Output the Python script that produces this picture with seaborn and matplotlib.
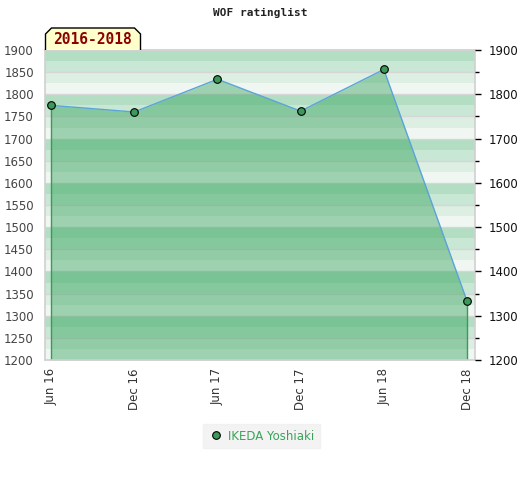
import matplotlib
matplotlib.use("Agg")
import matplotlib.pyplot as plt
import seaborn as sns
import pandas as pd
from matplotlib.patches import Polygon
from matplotlib.ticker import NullFormatter

# rating history
periods = ["Jun 16", "Dec 16", "Jun 17", "Dec 17", "Jun 18", "Dec 18"]
ratings = [1775, 1760, 1834, 1762, 1856, 1333]
player = "IKEDA Yoshiaki"
title = "WOF ratinglist"
span_label = "2016-2018"

df = pd.DataFrame({"pos": range(len(periods)), "rating": ratings})

sns.set_theme(style="white")
plt.rcParams["font.family"] = ["DejaVu Sans"]

fig = plt.figure(figsize=(5.2, 4.8), dpi=100)
ax = fig.add_axes([45 / 520, 120 / 480, 430 / 520, 310 / 480])

ymin, ymax = 1200, 1900
# banded background: 4 bands per 100 points, darkest at top
band_cols = ["#b3dec4", "#c9e7d5", "#ddeee3", "#f0f7f2"]
for base in range(ymin, ymax, 100):
    for i, c in enumerate(band_cols):
        top = base + 100 - i * 25
        ax.axhspan(top - 25, top, color=c, lw=0, zorder=0)
for y in range(ymin, ymax + 1, 50):
    ax.axhline(y, color="#d6d6d6", lw=1, zorder=0.5)

ax.fill_between(df["pos"], df["rating"], ymin, color="#2b9e54", alpha=0.42,
                lw=0, zorder=1)
ax.vlines([df["pos"].iloc[0], df["pos"].iloc[-1]], ymin,
          [ratings[0], ratings[-1]], color="#3a9a5a", lw=1, zorder=2)
sns.lineplot(data=df, x="pos", y="rating", ax=ax, color="#5ba3d9", lw=1,
             zorder=3)
ax.plot(df["pos"], df["rating"], "o", ms=5.5, mfc="#3a9a5a", mec="black",
        mew=0.8, zorder=4, label=player)

ax.set_xlim(-0.072, len(periods) - 1 + 0.096)
ax.set_ylim(ymin, ymax)
ax.set_xticks(df["pos"])
ax.set_xticklabels(periods, rotation=90, fontsize=8.5, color="#333333")
ax.set_yticks(range(ymin, ymax + 1, 50))
ax.tick_params(axis="y", labelsize=8.5, labelcolor="#444444", length=0, pad=8)
ax.tick_params(axis="x", length=0, pad=6)
ax.set_xlabel("")
ax.set_ylabel("")
for s in ax.spines.values():
    s.set_color("#d0d0d0")
    s.set_linewidth(1.2)

ax2 = ax.twinx()
ax2.set_ylim(ymin, ymax)
ax2.set_yticks(range(ymin, ymax + 1, 100))
ax2.set_yticks(range(ymin + 50, ymax, 100), minor=True)
ax2.yaxis.set_minor_formatter(NullFormatter())
ax2.tick_params(axis="y", which="major", right=True, direction="out",
                labelsize=8.5, labelcolor="#111111", length=4, width=1,
                color="black", pad=6)
ax2.tick_params(axis="y", which="minor", right=True, direction="out",
                length=3, width=1, color="black")
for s in ax2.spines.values():
    s.set_visible(False)

fig.text(0.5, 1 - 13 / 480, title, ha="center", va="center",
         family="DejaVu Sans Mono", fontsize=8, fontweight="bold",
         color="#222222")

# tab-shaped label with clipped top corners
x0, x1 = 45.5 / 520, 140.5 / 520
y0, y1 = 1 - 50 / 480, 1 - 28 / 480
cx, cy = 6 / 520, 6 / 480
tab = Polygon([(x0, y0), (x0, y1 - cy), (x0 + cx, y1), (x1 - cx, y1),
               (x1, y1 - cy), (x1, y0)], closed=False,
              transform=fig.transFigure, fc="#ffffcc", ec="black", lw=1,
              zorder=5)
fig.add_artist(tab)
fig.text((x0 + x1) / 2, 1 - 40 / 480, span_label, ha="center", va="center",
         family="DejaVu Sans Mono", fontsize=10.5, fontweight="bold",
         color="#8b0000", zorder=6)

leg = fig.legend(loc="center", bbox_to_anchor=(0.503, 1 - 436 / 480),
                 frameon=True, fontsize=8.5, handletextpad=0.4,
                 borderpad=0.5, handlelength=1.2, fancybox=False)
leg.get_frame().set_facecolor("#f0f0f0")
leg.get_frame().set_edgecolor("#f0f0f0")
for t in leg.get_texts():
    t.set_color("#3aa35a")

fig.savefig("out.png", dpi=100)
